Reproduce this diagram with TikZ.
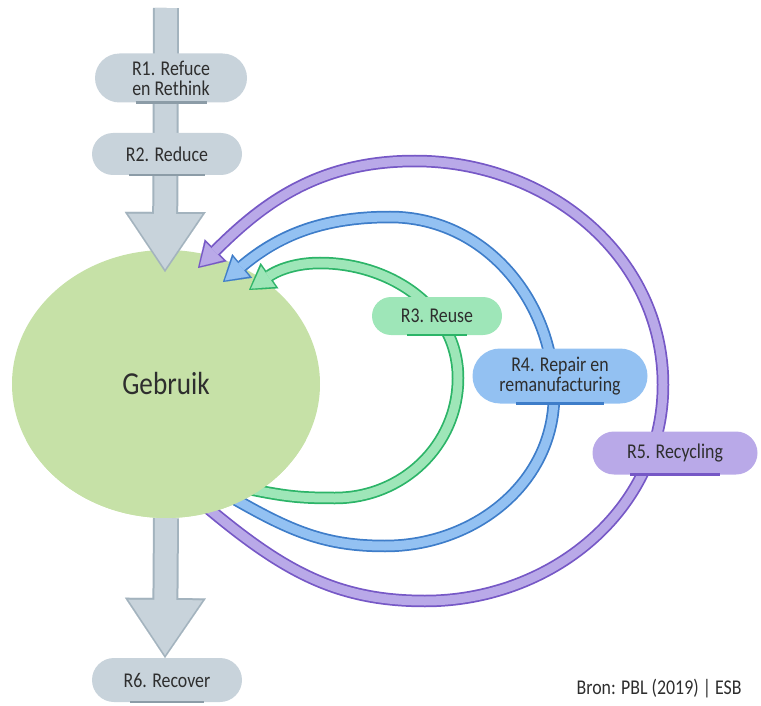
\documentclass[tikz,border=0pt]{standalone}
\usepackage{fontspec}
\setmainfont{Carlito}[FakeStretch=0.85]
\usepackage[dvipsnames]{xcolor}
\usetikzlibrary{arrows.meta,shapes.misc,shapes.geometric}

\definecolor{graypill}{HTML}{C8D3DB}
\definecolor{graydark}{HTML}{A3B3BE}
\definecolor{grayline}{HTML}{8C9CA7}
\definecolor{gebfill}{HTML}{C6E1A7}
\definecolor{reuselight}{HTML}{9EE6B8}
\definecolor{reusedark}{HTML}{2CB468}
\definecolor{repairlight}{HTML}{93C1F2}
\definecolor{repairdark}{HTML}{3E7DC9}
\definecolor{recyclight}{HTML}{B9A9E8}
\definecolor{recycdark}{HTML}{7658C6}
\definecolor{textdark}{HTML}{2E2E2E}

\begin{document}
\begin{tikzpicture}[x=1pt,y=1pt,
    pill/.style={rounded rectangle,fill=#1,text=textdark,align=center,inner sep=0pt,font=\fontsize{21}{20}\selectfont},
    band/.style 2 args={line width=9pt,draw=#1,shorten <=-10pt,shorten >=2.5pt,
        -{Triangle[length=21pt,width=25pt,line width=0.1pt]},
        preaction={draw=#2,line width=12.5pt,shorten >=0pt,-{Triangle[length=25pt,width=31pt,line width=0.1pt]}}},
    bigarrow/.style={line width=22pt,draw=graypill,shorten >=3pt,
        -{Triangle[length=55pt,width=74pt,line width=0.1pt]},
        preaction={draw=graydark,line width=26pt,shorten >=0pt,-{Triangle[length=60pt,width=81pt,line width=0.1pt]}}}]
    \useasboundingbox (0,0) rectangle (761,-706);

    % gebruik
    \node[ellipse,fill=gebfill,minimum width=308pt,minimum height=268pt,inner sep=0pt,text=textdark,font=\fontsize{32}{34}\selectfont] (g) at (166,-384) {Gebruik};

    % loops back to gebruik
    \coordinate (t5) at (198,-268);
    \coordinate (t4) at (223,-282);
    \coordinate (t3) at (249,-290);
    \draw[band={recyclight}{recycdark}] (g.-70) to[out=-40,in=180] (425,-601) to[out=0,in=-90] (663,-385)
        to[out=90,in=0] (415,-161) to[out=180,in=45] (t5);
    \draw[band={repairlight}{repairdark}] (g.-58) to[out=-30,in=180] (385,-546) to[out=0,in=-90] (554,-395)
        to[out=90,in=0] (390,-217) to[out=180,in=40] (t4);
    \draw[band={reuselight}{reusedark}] (g.-49) to[out=-12,in=180] (335,-498) to[out=0,in=-90] (458,-378)
        to[out=90,in=0] (320,-263) to[out=180,in=35] (t3);

    % cover the loop ends
    \begin{scope}
        \clip (0,-440) rectangle (340,-530);
        \fill[gebfill] (g.center) ellipse (154pt and 134pt);
    \end{scope}

    % gray flow
    \coordinate (top) at (166,-8);
    \coordinate (t1) at (165,-272);
    \draw[bigarrow] (top) -- (t1);
    \coordinate (t6) at (165,-658);
    \draw[bigarrow] (g.south) -- (t6);

    % labels
    \node[pill=graypill,minimum width=152pt,minimum height=49pt] (1) at (171,-78) {R1. Refuce\\en Rethink};
    \node[pill=graypill,minimum width=150pt,minimum height=42pt] (2) at (167,-154) {R2. Reduce};
    \node[pill=reuselight,minimum width=130pt,minimum height=38pt] (3) at (437,-316) {R3. Reuse};
    \node[pill=repairlight,minimum width=175pt,minimum height=55pt] (4) at (560,-376) {R4. Repair en\\remanufacturing};
    \node[pill=recyclight,minimum width=165pt,minimum height=43pt] (5) at (675,-453) {R5. Recycling};
    \node[pill=graypill,minimum width=150pt,minimum height=44pt] (6) at (167,-680) {R6. Recover};

    \foreach \n/\c in {1/grayline,2/grayline,6/grayline,3/reusedark,4/repairdark,5/recycdark}
        \draw[line width=2.5pt,\c] ([xshift=16pt]\n.south west) -- ([xshift=-16pt]\n.south east);

    \node[anchor=east,text=textdark,font=\fontsize{21}{23}\selectfont] (bron) at (745,-689) {Bron: PBL (2019) | ESB};
\end{tikzpicture}
\end{document}
